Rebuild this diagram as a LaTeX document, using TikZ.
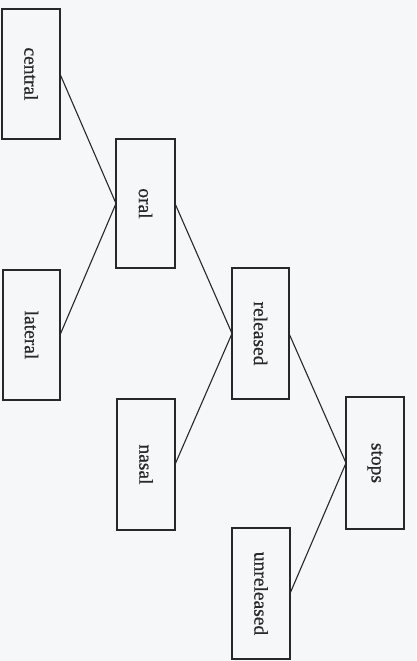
\documentclass[tikz,border=0pt]{standalone}
\usepackage{fontspec}
\setmainfont{Liberation Serif}
\newfontfamily\labelfont[FakeBold=0.6]{Liberation Serif}
\definecolor{paper}{RGB}{246,247,249}
\definecolor{ink}{RGB}{40,40,44}
\begin{document}
\begin{tikzpicture}[x=1pt,y=-1pt,
  catbox/.style={draw=ink,line width=1.3pt,fill=none,inner sep=0pt},
  catlabel/.style={text=ink,font=\labelfont\fontsize{19.5}{23}\selectfont,rotate=-90},
  link/.style={draw=ink,line width=1.1pt}]
  % page
  \fill[paper] (0,0) rectangle (416,661);
  \useasboundingbox (0,0) rectangle (416,661);
  % a box: frame, side midpoints (name-w, name-e) and a rotated label node
  \newcommand{\catnode}[6]{%
    \draw[catbox] (#2,#3) rectangle (#4,#5);
    \coordinate (#1-w) at (#2,{(#3+#5)/2});
    \coordinate (#1-e) at (#4,{(#3+#5)/2});
    \node[catlabel] (#1) at ({(#2+#4)/2},{(#3+#5)/2}) {#6};}
  \catnode{central}{2}{9}{60}{139}{central}
  \catnode{lateral}{3}{270}{60}{400}{lateral}
  \catnode{oral}{116}{139}{175}{268}{oral}
  \catnode{nasal}{117}{399}{175}{530}{nasal}
  \catnode{released}{232}{268}{289}{399}{released}
  \catnode{unreleased}{232}{528}{290}{659}{unreleased}
  \catnode{stops}{346}{397}{404}{529}{stops}
  % connectors
  \draw[link] (central-e) -- (oral-w);
  \draw[link] (lateral-e) -- (oral-w);
  \draw[link] (oral-e) -- (released-w);
  \draw[link] (nasal-e) -- (released-w);
  \draw[link] (released-e) -- (stops-w);
  \draw[link] (unreleased-e) -- (stops-w);
\end{tikzpicture}
\end{document}
